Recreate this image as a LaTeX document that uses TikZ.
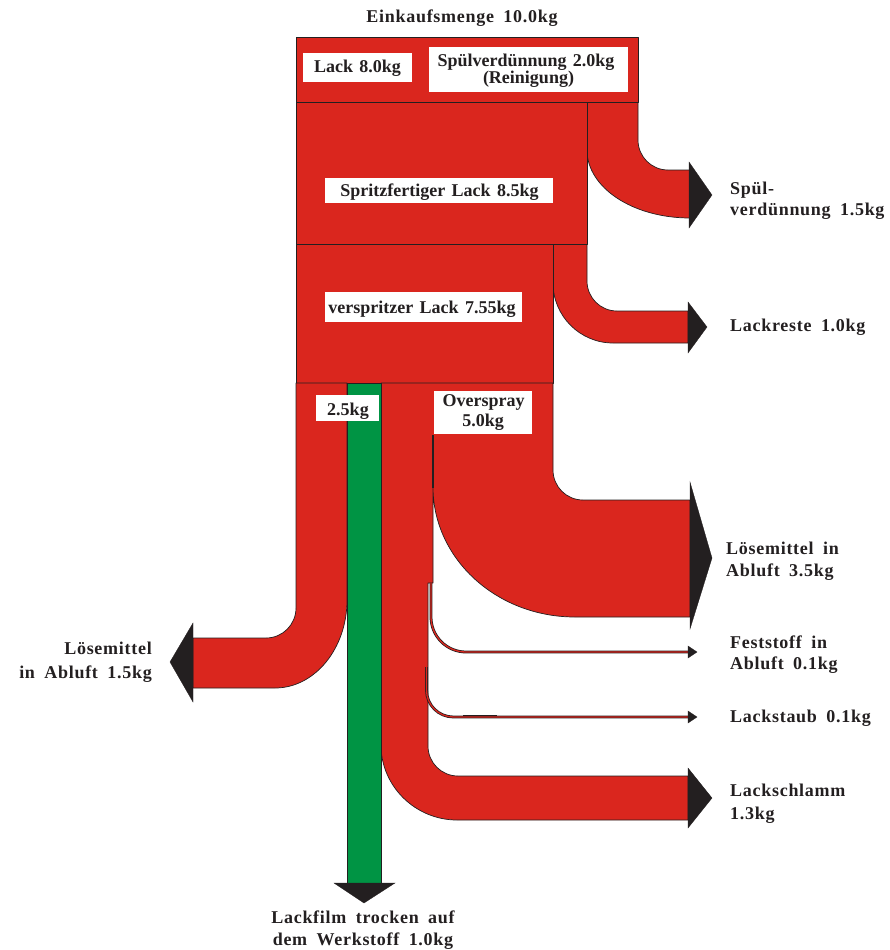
\documentclass[tikz,border=0pt]{standalone}
\usepackage{fontspec}
\setmainfont{Liberation Serif}[WordSpace=1.4]
\newfontfamily\spcfont{Liberation Serif}[LetterSpace=4,WordSpace=1.8]
\definecolor{flowred}{RGB}{218,38,30}
\definecolor{flowgreen}{RGB}{0,148,68}
\definecolor{edgec}{RGB}{35,31,32}
\begin{document}
\begin{tikzpicture}[x=1pt,y=-1pt,
  flow/.style={fill=flowred, draw=edgec, line width=0.7pt, line join=round},
  greenflow/.style={fill=flowgreen, draw=edgec, line width=0.7pt},
  head/.style={fill=edgec, draw=edgec, line width=0.3pt, line join=miter},
  thinflow/.style={draw=edgec, line width=0.75pt, double=flowred, double distance=1.3pt},
  sep/.style={draw=edgec, line width=1.3pt},
  wbox/.style={fill=white},
  boxtxt/.style={font=\fontsize{18}{22}\selectfont\bfseries, text=edgec, inner sep=0pt, anchor=base},
  rtxt/.style={font=\spcfont\fontsize{18}{22}\selectfont\bfseries, text=edgec, inner sep=0pt, anchor=base west},
  ltxt/.style={rtxt, anchor=base east},
  ctxt/.style={rtxt, anchor=base}]
\useasboundingbox (0,0) rectangle (889,950);

% --- branches above the boxes ---
% Spuelverduennung 1.5kg
\path[flow] (587,102) -- (638,102) -- (638,140)
  .. controls (638,156.6) and (651.4,170) .. (668,170) -- (690,170) -- (690,218)
  .. controls (632.7,218) and (587,187.5) .. (587,150) -- cycle;
\path[head] (689,162) -- (712,195) -- (689,228) -- cycle;
% Lackreste 1.0kg
\path[flow] (553,244) -- (587,244) -- (587,281)
  .. controls (587,297.6) and (600.4,311) .. (617,311) -- (688,311) -- (688,343)
  -- (613,343) .. controls (580,343) and (553,316) .. (553,283) -- cycle;
\path[head] (688,302) -- (707,327) -- (688,353) -- cycle;

% --- main boxes ---
\path[flow] (296,37) rectangle (638,102);
\path[flow] (296,102) rectangle (587,244);
\path[flow] (296,244) rectangle (553,383);

% --- lower part ---
% Loesemittel in Abluft 1.5kg (left)
\path[flow] (296,383) -- (347,383) -- (347,600)
  .. controls (347,648.6) and (314.7,688) .. (275,688) -- (193,688) -- (193,638)
  -- (266,638) .. controls (282.6,638) and (296,624.6) .. (296,608) -- cycle;
\path[head] (193,623) -- (170,662) -- (193,702) -- cycle;
% Overspray region: Loesemittel 3.5kg and Lackschlamm 1.3kg
\path[flow] (381,383) -- (553,383) -- (553,470)
  .. controls (553,486.6) and (566.4,500) .. (583,500) -- (690,500) -- (690,617)
  -- (575,617) .. controls (496.6,617) and (433,558.8) .. (433,487)
  -- (433,583) -- (428,583) -- (428,746)
  .. controls (428,762.6) and (441.4,776) .. (458,776) -- (688,776) -- (688,820)
  -- (457,820) .. controls (415.6,820) and (381,786.4) .. (381,745) -- cycle;
\path[head] (690,482) -- (712,558) -- (690,629) -- cycle;
\path[head] (688,768) -- (712,798) -- (688,828) -- cycle;
\draw[sep] (433,435) -- (433,488);
% Feststoff in Abluft 0.1kg
\draw[thinflow] (431,583) -- (431,617) .. controls (431,636.3) and (446.7,652) .. (466,652) -- (689,652);
\path[head] (688,646) -- (697,652) -- (688,658) -- cycle;
% Lackstaub 0.1kg
\draw[thinflow] (426.5,667) -- (426.5,690) .. controls (426.5,705) and (438.5,717) .. (453.5,717) -- (689,717);
\draw[edgec, line width=1.2pt] (463,715.6) -- (497,715.6);
\path[head] (688,711) -- (697,717) -- (688,723) -- cycle;
% Lackfilm (green)
\path[greenflow] (347,383) rectangle (381,883);
\path[head] (334,883) -- (395,883) -- (364,903) -- cycle;

% --- white label boxes ---
\path[wbox] (303,53) rectangle (412,82);
\path[wbox] (429,47) rectangle (628,92);
\path[wbox] (325,178) rectangle (553,203);
\path[wbox] (325,292) rectangle (522,322);
\path[wbox] (316,395) rectangle (379,421);
\path[wbox] (434,391) rectangle (532,434);

% --- texts ---
\node[ctxt] (title) at (462,23) {Einkaufsmenge 10.0kg};
\node[boxtxt] (lack) at (357.5,72) {Lack 8.0kg};
\node[boxtxt] (spv1) at (526,66.5) {Spülverdünnung 2.0kg};
\node[boxtxt] (spv2) at (528.5,83.5) {(Reinigung)};
\node[boxtxt] (sfl) at (439.5,196) {Spritzfertiger Lack 8.5kg};
\node[boxtxt] (vsl) at (422,313) {verspritzer Lack 7.55kg};
\node[boxtxt] (kg25) at (348,415) {2.5kg};
\node[boxtxt] (ovs1) at (483.5,406.7) {Overspray};
\node[boxtxt] (ovs2) at (483,426.7) {5.0kg};

\node[rtxt] (sp1) at (730,194.3) {Spül-};
\node[rtxt] (sp2) at (730,215) {verdünnung 1.5kg};
\node[rtxt] (lr) at (730,331) {Lackreste 1.0kg};
\node[rtxt] (lm1) at (726,554) {Lösemittel in};
\node[rtxt] (lm2) at (726,576) {Abluft 3.5kg};
\node[rtxt] (fs1) at (730,648.3) {Feststoff in};
\node[rtxt] (fs2) at (730,669.3) {Abluft 0.1kg};
\node[rtxt] (ls) at (730,722) {Lackstaub 0.1kg};
\node[rtxt] (lsl1) at (730,796) {Lackschlamm};
\node[rtxt] (lsl2) at (730,819) {1.3kg};
\node[ltxt] (ll1) at (152,654) {Lösemittel};
\node[ltxt] (ll2) at (152,678) {in Abluft 1.5kg};
\node[ctxt] (lf1) at (363,923) {Lackfilm trocken auf};
\node[ctxt] (lf2) at (363,945) {dem Werkstoff 1.0kg};
\end{tikzpicture}
\end{document}
